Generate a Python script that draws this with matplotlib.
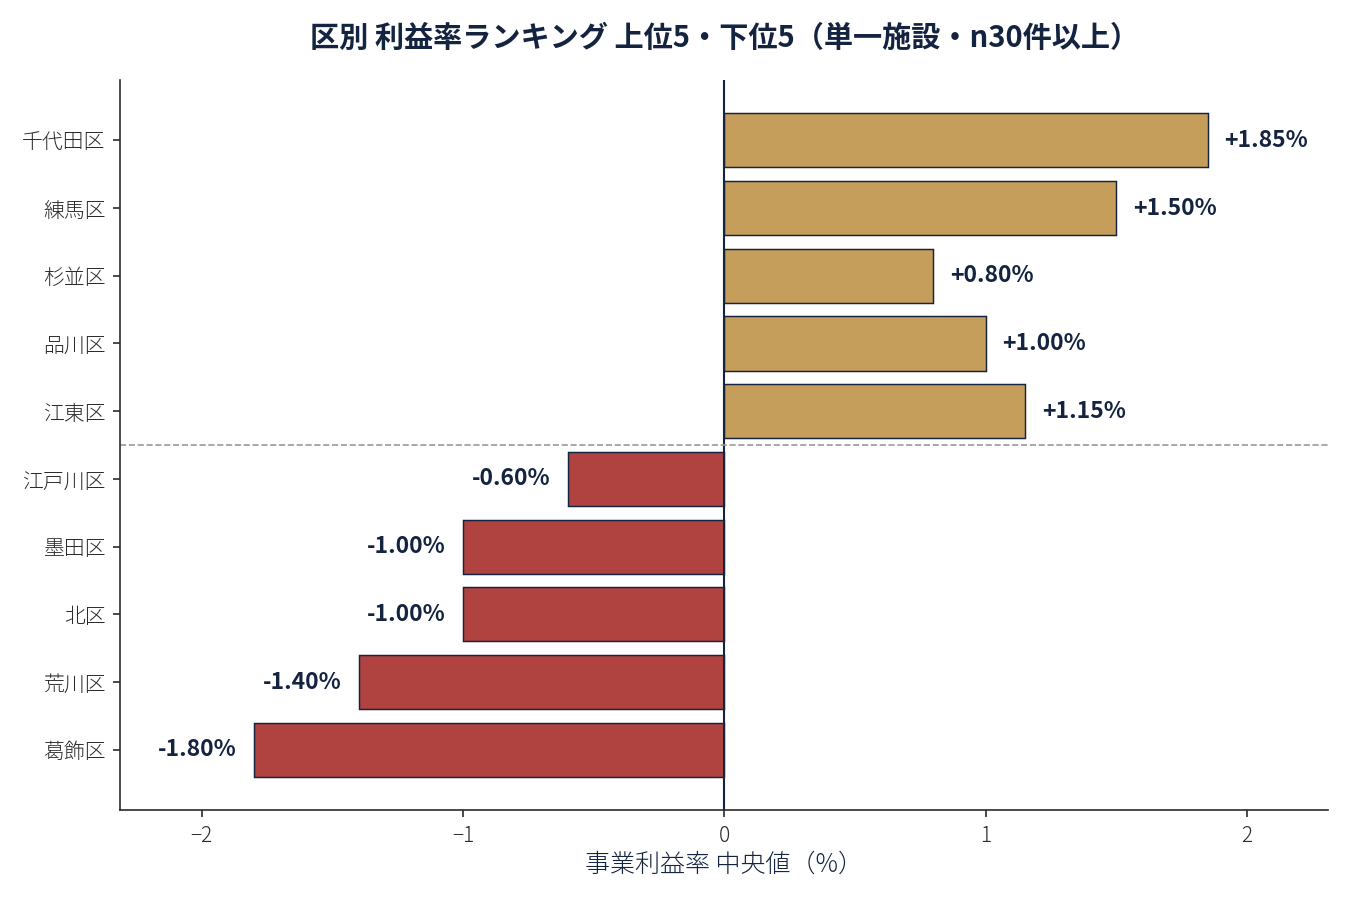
import matplotlib
matplotlib.use('Agg')
from matplotlib import pyplot as plt
import numpy as np

plt.rcParams['font.family'] = ['Noto Sans CJK JP', 'DejaVu Sans']

wards = ['千代田区', '練馬区', '杉並区', '品川区', '江東区',
         '江戸川区', '墨田区', '北区', '荒川区', '葛飾区']
rates = [1.85, 1.50, 0.80, 1.00, 1.15, -0.60, -1.00, -1.00, -1.40, -1.80]

navy = '#14233f'
gold = '#c49e5a'
red = '#b04340'
grey = '#2b2b2b'

fig, ax = plt.subplots(figsize=(9, 6), dpi=150)
fig.subplots_adjust(left=0.089, right=0.984, top=0.911, bottom=0.1)
ypos = np.arange(len(wards))
colors = [gold if v > 0 else red for v in rates]
ax.barh(ypos, rates, color=colors, edgecolor=navy, linewidth=0.7, height=0.8)

ax.axvline(0, color=navy, linewidth=1)
ax.axhline(4.5, color='#999999', linestyle='--', linewidth=0.8)

for y, v in zip(ypos, rates):
    if v > 0:
        ax.text(v + 0.065, y, f'+{v:.2f}%', ha='left', va='center',
                fontsize=11, fontweight='bold', color=navy)
    else:
        ax.text(v - 0.065, y, f'{v:.2f}%', ha='right', va='center',
                fontsize=11, fontweight='bold', color=navy)

lim = max(abs(v) for v in rates) * 1.25
ax.set_xlim(-lim, lim)
ax.set_yticks(ypos)
ax.set_yticklabels(wards, fontsize=10, fontweight='light')
ax.invert_yaxis()
ax.tick_params(axis='both', colors=grey, labelcolor=grey)
for lab in ax.get_xticklabels():
    lab.set_fontsize(10)
    lab.set_fontweight('light')
ax.set_xlabel('事業利益率 中央値（%）', fontsize=12, color=navy,
              fontweight='light', labelpad=2)
ax.set_title('区別 利益率ランキング 上位5・下位5（単一施設・n30件以上）',
             fontsize=14, fontweight='bold', color=navy, pad=16)

ax.spines['top'].set_visible(False)
ax.spines['right'].set_visible(False)
ax.spines['left'].set_color(grey)
ax.spines['bottom'].set_color(grey)

plt.savefig('out.png', dpi=150)
